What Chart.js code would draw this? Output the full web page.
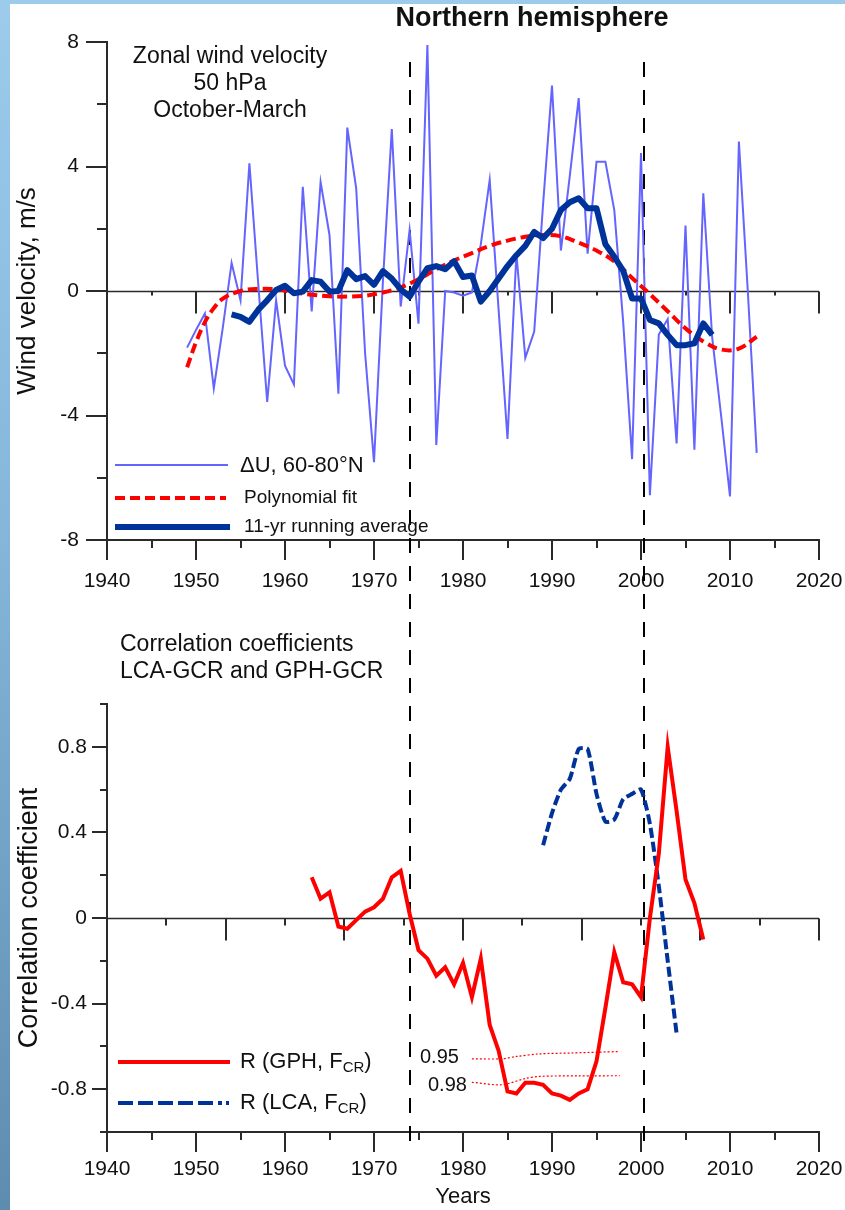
<!DOCTYPE html>
<html>
<head>
<meta charset="utf-8">
<title>Northern hemisphere</title>
<script src="https://cdn.jsdelivr.net/npm/chart.js@4.4.1/dist/chart.umd.min.js"></script>
<style>
  html, body { margin: 0; padding: 0; }
  body {
    width: 845px; height: 1210px; overflow: hidden; position: relative;
    background: linear-gradient(180deg, #9ccbeb 0%, #84b6da 45%, #5e8cae 100%);
  }
  #panel { position: absolute; left: 10px; top: 4px; right: 0; bottom: 0; background: #ffffff; }
  canvas { position: absolute; left: 0; }
  #windChart { top: 0; }
  #corrChart { top: 620px; }
</style>
</head>
<body>
<div id="panel"></div>
<canvas id="windChart" width="845" height="620"></canvas>
<canvas id="corrChart" width="845" height="590"></canvas>
<script>
const FONT = "'Liberation Sans', Arial, Helvetica, sans-serif";
const TEXT = '#111111';
const AXIS = '#2a2a2a';
const THIN_BLUE = '#6464ff';
const DARK_BLUE = '#003399';
const RED = '#ff0000';

// ---- Upper panel: zonal wind anomaly at 50 hPa, October-March, 60-80°N ----
const windStartYear = 1949;
const windAnomaly = [
  -1.82, -1.25, -0.72, -3.13, -1.2, 0.9, -0.3, 4.1, 0.2, -3.56,
  -0.3, -2.4, -3.0, 3.35, -0.66, 3.5, 1.8, -3.3, 5.25, 3.3,
  -2.0, -5.5, 0.3, 5.2, -0.5, 1.96, -1.05, 7.9, -4.95, 0.0,
  -0.05, -0.15, -0.05, 1.5, 3.57, -0.6, -4.75, 1.2, -2.15, -1.3,
  2.8, 6.6, 1.3, 3.7, 6.2, 1.2, 4.15, 4.15, 2.6, -1.0,
  -5.4, 4.43, -6.56, -1.4, -0.9, -4.9, 2.1, -5.1, 3.14, -1.5,
  -4.0, -6.6, 4.8, 0.0, -5.2
];
const runningStartYear = 1954;
const runningMean = [
  -0.75, -0.83, -0.99, -0.6, -0.3, 0.03, 0.17, -0.07, -0.02, 0.35,
  0.3, -0.02, 0.0, 0.67, 0.38, 0.48, 0.2, 0.64, 0.4, 0.05,
  -0.18, 0.3, 0.73, 0.8, 0.7, 0.96, 0.45, 0.5, -0.34, 0.0,
  0.4, 0.8, 1.15, 1.45, 1.9, 1.7, 2.0, 2.6, 2.85, 2.98,
  2.66, 2.66, 1.5, 1.1, 0.65, -0.24, -0.24, -0.93, -1.04, -1.41,
  -1.74, -1.74, -1.68, -1.04, -1.41
];
const polyYears = [1949, 1950, 1951, 1952, 1953, 1955, 1957, 1959, 1961, 1963, 1965, 1967, 1969, 1971,
  1973, 1975, 1977, 1979, 1981, 1983, 1985, 1987, 1989, 1991, 1993, 1995, 1997, 1999, 2001, 2003,
  2005, 2007, 2009, 2011, 2013];
const polyValues = [-2.45, -1.65, -1.0, -0.55, -0.25, 0.0, 0.07, 0.05, -0.04, -0.12, -0.17, -0.18, -0.15, -0.05,
  0.12, 0.38, 0.7, 0.98, 1.22, 1.45, 1.62, 1.74, 1.8, 1.76, 1.55, 1.3, 0.95, 0.42, -0.1, -0.65,
  -1.2, -1.62, -1.88, -1.85, -1.47];

// ---- Lower panel: running correlation coefficients ----
const gphStartYear = 1963;
const gphCorr = [
  0.19, 0.09, 0.12, -0.04, -0.05, -0.01, 0.03, 0.05, 0.09, 0.19,
  0.22, 0.02, -0.15, -0.19, -0.27, -0.23, -0.31, -0.21, -0.37, -0.19,
  -0.50, -0.62, -0.81, -0.82, -0.77, -0.77, -0.78, -0.82, -0.83, -0.85,
  -0.82, -0.80, -0.67, -0.42, -0.16, -0.30, -0.31, -0.37, 0.0, 0.3,
  0.8, 0.5, 0.18, 0.07, -0.1
];
const lcaStartYear = 1989;
const lcaCorr = [0.34, 0.49, 0.6, 0.65, 0.79, 0.79, 0.58, 0.45, 0.46, 0.555, 0.58, 0.6, 0.44, 0.15, -0.2, -0.54];
const sig95Years = [1981, 1984.4, 1986, 1988.6, 1992, 1997.6];
const sig95Values = [-0.658, -0.658, -0.647, -0.635, -0.631, -0.624];
const sig98Years = [1981, 1984.4, 1987, 1988.6, 1993, 1997.6];
const sig98Values = [-0.768, -0.779, -0.75, -0.74, -0.738, -0.737];

// ---- Axis ticks and marker years ----
const yearTicks = [1940, 1950, 1960, 1970, 1980, 1990, 2000, 2010, 2020];
const windTicks = [-8, -4, 0, 4, 8];
const corrTicks = [-0.8, -0.4, 0, 0.4, 0.8];
const corrTickLabels = ['-0.8', '-0.4', '0', '0.4', '0.8'];
const markerYears = [1974, 2000.3];

const series = (start, values) => values.map((v, i) => ({ x: start + i, y: v }));
const pairs = (xs, ys) => xs.map((x, i) => ({ x, y: ys[i] }));

function seg(ctx, x1, y1, x2, y2) {
  ctx.beginPath(); ctx.moveTo(x1, y1); ctx.lineTo(x2, y2); ctx.stroke();
}

function yearAxis(labelPadding, height, title) {
  return {
    type: 'linear', min: 1940, max: 2020,
    afterBuildTicks: s => { s.ticks = yearTicks.map(v => ({ value: v })); },
    afterFit: s => { s.height = height; s.paddingLeft = 0; s.paddingRight = 0; },
    ticks: { callback: v => String(v), padding: labelPadding, color: TEXT, font: { size: 21 }, autoSkip: false, maxRotation: 0 },
    grid: { display: false, drawTicks: false },
    border: { display: true, color: AXIS, width: 2 },
    title: title
  };
}

// year ticks under the lower axis line
function drawYearTicks(ctx, x, yBase) {
  for (let yr = 1940; yr <= 2020; yr += 5) {
    const px = Math.round(x.getPixelForValue(yr));
    seg(ctx, px, yBase, px, yBase + (yr % 10 === 0 ? 20 : 8));
  }
}

function drawMarkers(ctx, x, y1, y2, offset) {
  ctx.save();
  ctx.strokeStyle = '#000'; ctx.lineWidth = 2;
  ctx.setLineDash([15, 13]); ctx.lineDashOffset = offset;
  markerYears.forEach(m => {
    const px = Math.round(x.getPixelForValue(m));
    seg(ctx, px, y1, px, y2);
  });
  ctx.restore();
}

function legendLine(ctx, x1, x2, y, color, width, dash) {
  ctx.save();
  ctx.strokeStyle = color; ctx.lineWidth = width; ctx.setLineDash(dash || []);
  seg(ctx, x1, y, x2, y);
  ctx.restore();
}

function subLabel(ctx, x, y, main, sub, tail, size) {
  ctx.font = size + 'px ' + FONT;
  ctx.fillText(main, x, y);
  let w = ctx.measureText(main).width;
  ctx.font = Math.round(size * 0.68) + 'px ' + FONT;
  ctx.fillText(sub, x + w, y + 6);
  w += ctx.measureText(sub).width;
  ctx.font = size + 'px ' + FONT;
  ctx.fillText(tail, x + w, y);
}

const windDecor = {
  id: 'windDecor',
  beforeDatasetsDraw(chart) {
    const { ctx, chartArea: a, scales: { x, y } } = chart;
    ctx.save();
    ctx.strokeStyle = AXIS; ctx.lineWidth = 1.5;
    const y0 = Math.round(y.getPixelForValue(0)) + 0.5;
    seg(ctx, a.left, y0, a.right, y0);
    ctx.lineWidth = 2;
    for (let yr = 1940; yr <= 2020; yr += 5) {
      const px = Math.round(x.getPixelForValue(yr));
      seg(ctx, px, y0, px, y0 + (yr % 10 === 0 ? 22 : 4));
    }
    ctx.restore();
    drawMarkers(ctx, x, 62, chart.height, 0);
  },
  afterDraw(chart) {
    const { ctx, chartArea: a, scales: { x, y } } = chart;
    ctx.save();
    ctx.strokeStyle = AXIS; ctx.lineWidth = 2;
    for (let v = -8; v <= 8; v += 2) {
      const py = Math.round(y.getPixelForValue(v));
      seg(ctx, a.left - (v % 4 === 0 ? 21 : 10), py, a.left, py);
    }
    drawYearTicks(ctx, x, a.bottom);

    ctx.fillStyle = TEXT; ctx.textBaseline = 'middle';
    ctx.textAlign = 'center';
    ctx.font = 'bold 27px ' + FONT;
    ctx.fillText('Northern hemisphere', 532, 19);
    ctx.font = '23px ' + FONT;
    ctx.fillText('Zonal wind velocity', 230, 57);
    ctx.fillText('50 hPa', 230, 84);
    ctx.fillText('October-March', 230, 111);

    ctx.textAlign = 'left';
    legendLine(ctx, 115, 228, 465, THIN_BLUE, 2);
    ctx.font = '22px ' + FONT;
    ctx.fillText('\u0394U, 60-80\u00B0N', 240, 466);
    legendLine(ctx, 115, 226, 498, RED, 4, [10, 5]);
    ctx.font = '19px ' + FONT;
    ctx.fillText('Polynomial fit', 244, 498);
    legendLine(ctx, 115, 230, 527, DARK_BLUE, 6);
    ctx.fillText('11-yr running average', 244, 527);
    ctx.restore();
  }
};

const corrDecor = {
  id: 'corrDecor',
  beforeDatasetsDraw(chart) {
    const { ctx, chartArea: a, scales: { x, y } } = chart;
    ctx.save();
    ctx.strokeStyle = AXIS; ctx.lineWidth = 1.5;
    const y0 = Math.round(y.getPixelForValue(0)) + 0.5;
    seg(ctx, a.left, y0, a.right, y0);
    ctx.lineWidth = 2;
    for (let k = 0; k <= 12; k++) {
      const px = Math.round(x.getPixelForValue(1940 + k * 80 / 12));
      seg(ctx, px, y0, px, y0 + (k % 2 === 0 ? 22 : 7));
    }
    ctx.restore();
    drawMarkers(ctx, x, 0, 525, 620 - 62);
  },
  afterDraw(chart) {
    const { ctx, chartArea: a, scales: { x, y } } = chart;
    ctx.save();
    ctx.strokeStyle = AXIS; ctx.lineWidth = 2;
    for (let k = -5; k <= 5; k++) {
      const py = Math.round(y.getPixelForValue(k / 5));
      seg(ctx, a.left - (k % 2 === 0 ? 15 : 7), py, a.left, py);
    }
    drawYearTicks(ctx, x, a.bottom);

    ctx.fillStyle = TEXT; ctx.textBaseline = 'middle'; ctx.textAlign = 'left';
    ctx.font = '23px ' + FONT;
    ctx.fillText('Correlation coefficients', 120, 25);
    ctx.fillText('LCA-GCR and GPH-GCR', 120, 52);
    ctx.font = '20px ' + FONT;
    ctx.fillText('0.95', 420, 437);
    ctx.fillText('0.98', 428, 465);

    legendLine(ctx, 118, 230, 442, RED, 4);
    subLabel(ctx, 240, 442, 'R (GPH, F', 'CR', ')', 22);
    legendLine(ctx, 118, 222, 483, DARK_BLUE, 4, [15, 5]);
    legendLine(ctx, 226, 229, 483, DARK_BLUE, 4);
    subLabel(ctx, 240, 483, 'R (LCA, F', 'CR', ')', 22);
    ctx.restore();
  }
};

Chart.defaults.font.family = FONT;
Chart.defaults.color = TEXT;

new Chart(document.getElementById('windChart'), {
  type: 'line',
  data: {
    datasets: [
      { label: '11-yr running average', data: series(runningStartYear, runningMean), order: 0,
        borderColor: DARK_BLUE, borderWidth: 6, pointRadius: 0, tension: 0, borderJoinStyle: 'round' },
      { label: 'Polynomial fit', data: pairs(polyYears, polyValues), order: 1,
        borderColor: RED, borderWidth: 4, borderDash: [10, 5], pointRadius: 0, tension: 0.4 },
      { label: '\u0394U, 60-80\u00B0N', data: series(windStartYear, windAnomaly), order: 2,
        borderColor: THIN_BLUE, borderWidth: 2, pointRadius: 0, tension: 0 }
    ]
  },
  options: {
    responsive: false, animation: false, devicePixelRatio: 1, events: [],
    layout: { autoPadding: false, padding: { left: 0, right: 26, top: 42, bottom: 20 } },
    plugins: { legend: { display: false }, tooltip: { enabled: false }, title: { display: false } },
    scales: {
      x: yearAxis(29, 60, { display: false }),
      y: {
        type: 'linear', min: -8, max: 8,
        afterBuildTicks: s => { s.ticks = windTicks.map(v => ({ value: v })); },
        afterFit: s => { s.width = 107; },
        ticks: { callback: v => String(v), padding: 28, color: TEXT, font: { size: 21 } },
        grid: { display: false, drawTicks: false },
        border: { display: true, color: AXIS, width: 2 },
        title: { display: true, text: 'Wind velocity, m/s', color: TEXT, font: { size: 26 }, padding: { top: 12, bottom: 0 } }
      }
    }
  },
  plugins: [windDecor]
});

new Chart(document.getElementById('corrChart'), {
  type: 'line',
  data: {
    datasets: [
      { label: 'R (GPH, FCR)', data: series(gphStartYear, gphCorr), order: 0,
        borderColor: RED, borderWidth: 4, pointRadius: 0, tension: 0 },
      { label: 'R (LCA, FCR)', data: series(lcaStartYear, lcaCorr), order: 1,
        borderColor: DARK_BLUE, borderWidth: 4, borderDash: [10, 4], pointRadius: 0, tension: 0.2 },
      { label: '0.95', data: pairs(sig95Years, sig95Values), order: 2,
        borderColor: RED, borderWidth: 1.2, borderDash: [2, 2], pointRadius: 0, tension: 0.3 },
      { label: '0.98', data: pairs(sig98Years, sig98Values), order: 3,
        borderColor: RED, borderWidth: 1.2, borderDash: [2, 2], pointRadius: 0, tension: 0.3 }
    ]
  },
  options: {
    responsive: false, animation: false, devicePixelRatio: 1, events: [],
    layout: { autoPadding: false, padding: { left: 0, right: 26, top: 84, bottom: 0 } },
    plugins: { legend: { display: false }, tooltip: { enabled: false }, title: { display: false } },
    scales: {
      x: yearAxis(25, 78, { display: true, text: 'Years', color: TEXT, font: { size: 22 }, padding: { top: 0, bottom: 0 } }),
      y: {
        type: 'linear', min: -1, max: 1,
        afterBuildTicks: s => { s.ticks = corrTicks.map(v => ({ value: v })); },
        afterFit: s => { s.width = 107; },
        ticks: { callback: (v, i) => corrTickLabels[i], padding: 20, color: TEXT, font: { size: 21 } },
        grid: { display: false, drawTicks: false },
        border: { display: true, color: AXIS, width: 2 },
        title: { display: true, text: 'Correlation coefficient', color: TEXT, font: { size: 27 }, padding: { top: 13, bottom: 0 } }
      }
    }
  },
  plugins: [corrDecor]
});
</script>
</body>
</html>
